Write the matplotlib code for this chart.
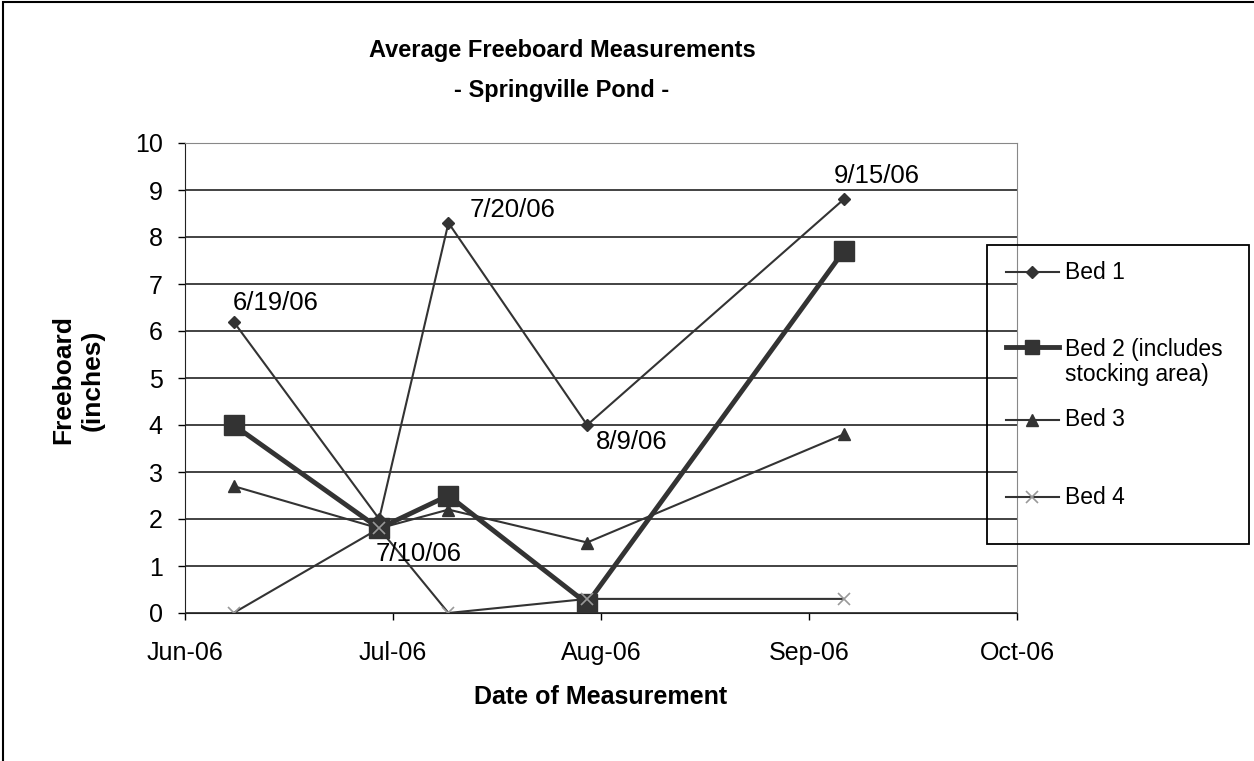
import matplotlib
matplotlib.use("Agg")
import matplotlib.pyplot as plt
import matplotlib.dates as mdates
from matplotlib.patches import Rectangle
from matplotlib.lines import Line2D
from datetime import datetime, timedelta

plt.rcParams['font.family'] = ['Liberation Sans', 'DejaVu Sans']

# measurement dates
dates = [datetime(2006, 6, 19), datetime(2006, 7, 10), datetime(2006, 7, 20),
         datetime(2006, 8, 9), datetime(2006, 9, 15)]
date_labels = ["6/19/06", "7/10/06", "7/20/06", "8/9/06", "9/15/06"]

bed1 = [6.2, 2.0, 8.3, 4.0, 8.8]
bed2 = [4.0, 1.8, 2.5, 0.2, 7.7]
bed3 = [2.7, 1.8, 2.2, 1.5, 3.8]
bed4 = [0.0, 1.8, 0.0, 0.3, 0.3]

names = ["Bed 1", "Bed 2 (includes\nstocking area)", "Bed 3", "Bed 4"]

# axis starts 6/12/06, ticks every 30 days
x_start = datetime(2006, 6, 12)
x_ticks = [x_start + timedelta(days=30 * i) for i in range(5)]

line_col = "#333333"
W, H = 1254, 761


def fx(px):
    return px / W


def fy(py):
    return 1 - py / H


fig = plt.figure(figsize=(W / 100, H / 100), dpi=100)
fig.patches.append(Rectangle((0.002, -0.1), 1.2, 1.097, transform=fig.transFigure,
                             fill=False, edgecolor="black", linewidth=1.5))

ax = fig.add_axes([fx(185), fy(613), fx(1017) - fx(185), fy(143) - fy(613)])

styles = [
    dict(lw=1.5, marker="D", ms=6.5),
    dict(lw=3.5, marker="s", ms=14),
    dict(lw=1.5, marker="^", ms=9),
    dict(lw=1.5, marker="x", ms=9, mec="#999999", mew=1.2),
]
series = [bed1, bed2, bed3, bed4]
for vals, st in zip(series, styles):
    ax.plot(dates, vals, color=line_col, **st)

# date labels on the Bed 1 points (pixel offsets: left edge, vertical centre)
offsets = [(-1, 19), (-4, -35), (21, 13), (9, -17), (-10, 23)]
for d, v, lab, (dx, dy) in zip(dates, bed1, date_labels, offsets):
    ax.annotate(lab, (d, v), xytext=(dx, dy), textcoords="offset pixels",
                ha="left", va="center", fontsize=18.5)

ax.set_xlim(x_ticks[0], x_ticks[-1])
ax.set_ylim(0, 10)
ax.set_xticks(x_ticks)
ax.xaxis.set_major_formatter(mdates.DateFormatter("%b-%y"))
ax.set_yticks(range(0, 11))
ax.tick_params(axis="both", labelsize=18, direction="out", length=5, width=1)
ax.tick_params(axis="x", pad=15)
ax.tick_params(axis="y", pad=11)
ax.yaxis.grid(True, color="#222222", lw=1.2)
ax.set_axisbelow(True)
for s in ["top", "right"]:
    ax.spines[s].set_color("#888888")
ax.spines["left"].set_color("#222222")
ax.spines["bottom"].set_color("#222222")

fig.text(fx(601), fy(697), "Date of Measurement", ha="center", va="center",
         fontsize=18, fontweight="bold")
fig.text(fx(78), fy(380), "Freeboard\n(inches)", ha="center", va="center",
         rotation=90, fontsize=19, fontweight="bold", linespacing=1.25)

fig.text(fx(562), fy(50), "Average Freeboard Measurements", ha="center", va="center",
         fontsize=17, fontweight="bold")
fig.text(fx(562), fy(91), "- Springville Pond -", ha="center", va="center",
         fontsize=17, fontweight="bold")

# legend box
fig.patches.append(Rectangle((fx(987), fy(544)), fx(1249) - fx(987), fy(245) - fy(544),
                             transform=fig.transFigure, fill=False,
                             edgecolor="black", linewidth=1.3))
leg_y = [272, 347, 420, 497]
leg_text_y = [272, 362, 420, 497]
leg_ms = [6, 10, 8, 9]
for st, ly, ty, name, ms in zip(styles, leg_y, leg_text_y, names, leg_ms):
    st2 = dict(st)
    st2["ms"] = ms
    fig.add_artist(Line2D([fx(1006), fx(1032), fx(1059)], [fy(ly)] * 3,
                          transform=fig.transFigure, color=line_col,
                          markevery=[1], **st2))
    fig.text(fx(1065), fy(ty), name, ha="left", va="center", fontsize=16.5,
             linespacing=1.15)

fig.savefig("out.png", dpi=100)
